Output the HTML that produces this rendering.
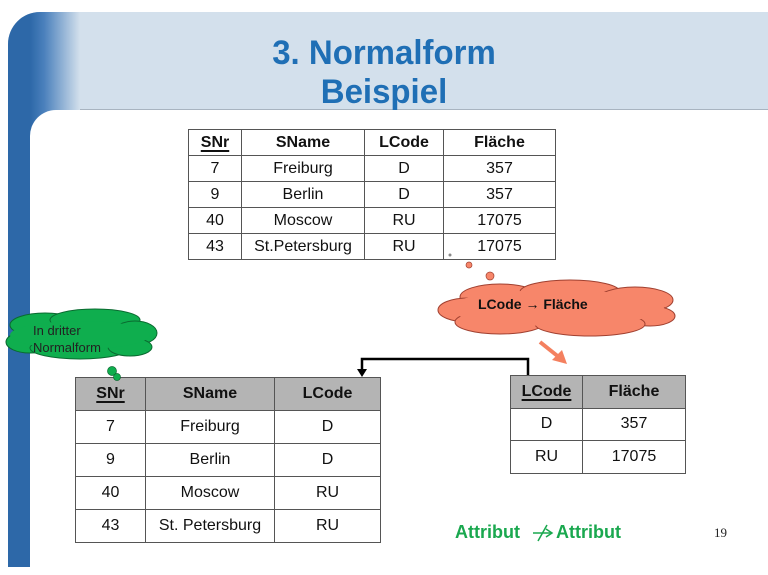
<!DOCTYPE html>
<html><head><meta charset="utf-8"><style>
body{margin:0;width:768px;height:575px;position:relative;background:#fff;font-family:"Liberation Sans",Arial,sans-serif;overflow:hidden}
.a{position:absolute}
table{position:absolute;border-collapse:collapse;font-size:16px;color:#111}
td{border:1px solid #555;text-align:center;padding:0}
.h td{font-weight:bold}
.g td{background:#b4b4b4}
u{text-decoration-thickness:2px;text-underline-offset:3px}
</style></head><body>
<div class="a" style="left:8px;top:12px;width:760px;height:97px;background:#d3e0ec;border-top-left-radius:32px;border-bottom:2px solid #a8b4c0"></div>
<div class="a" style="left:8px;top:12px;width:72px;height:555px;background:linear-gradient(90deg,#2d68a8 0,#2d68a8 22px,#4a80bc 36px,#d3e0ec 72px);border-top-left-radius:32px"></div>
<div class="a" style="left:30px;top:110px;width:738px;height:460px;background:#fff;border-top-left-radius:26px"></div>
<div class="a" style="left:0;top:34px;width:768px;text-align:center;color:#1f6fb5;font-weight:bold;font-size:34px;line-height:39px;transform:scaleX(0.97);transform-origin:384px 0">3. Normalform<br>Beispiel</div>

<table style="left:188px;top:129px;width:368px;height:131px">
<tr class="h" style="height:26px"><td style="width:52px"><u>SNr </u></td><td style="width:122px">SName</td><td style="width:78px">LCode</td><td>Fläche</td></tr>
<tr><td>7</td><td>Freiburg</td><td>D</td><td>357</td></tr>
<tr><td>9</td><td>Berlin</td><td>D</td><td>357</td></tr>
<tr><td>40</td><td>Moscow</td><td>RU</td><td>17075</td></tr>
<tr><td>43</td><td>St.Petersburg</td><td>RU</td><td>17075</td></tr>
</table>

<table style="left:75px;top:377px;width:306px;height:166px">
<tr class="h g"><td style="width:69px"><u>SNr </u></td><td style="width:128px">SName</td><td>LCode</td></tr>
<tr><td>7</td><td>Freiburg</td><td>D</td></tr>
<tr><td>9</td><td>Berlin</td><td>D</td></tr>
<tr><td>40</td><td>Moscow</td><td>RU</td></tr>
<tr><td>43</td><td>St. Petersburg</td><td>RU</td></tr>
</table>

<table style="left:510px;top:375px;width:176px;height:99px">
<tr class="h g"><td style="width:71px"><u>LCode</u></td><td>Fläche</td></tr>
<tr><td>D</td><td>357</td></tr>
<tr><td>RU</td><td>17075</td></tr>
</table>

<svg class="a" style="left:0;top:0" width="768" height="575">
<polyline points="528,375 528,359 362,359 362,372" fill="none" stroke="#000" stroke-width="2.5"/>
<polygon points="357,369 367,369 362,377" fill="#000"/>
<line x1="540" y1="342" x2="560" y2="358" stroke="#f4805f" stroke-width="4"/>
<polygon points="552,360 567,364 562,350" fill="#f4805f"/>
<g fill="#f7866a" stroke="#a04030" stroke-width="1">
<ellipse cx="500" cy="297" rx="40" ry="13"/><ellipse cx="570" cy="292" rx="50" ry="12"/><ellipse cx="635" cy="300" rx="38" ry="13"/>
<ellipse cx="468" cy="310" rx="30" ry="12"/><ellipse cx="650" cy="316" rx="25" ry="10"/>
<ellipse cx="500" cy="322" rx="45" ry="12"/><ellipse cx="590" cy="324" rx="55" ry="12"/>
</g>
<g fill="#f7866a">
<ellipse cx="556" cy="308" rx="108" ry="18"/>
</g>
<circle cx="490" cy="276" r="4" fill="#f7866a" stroke="#a04030" stroke-width=".7"/>
<circle cx="469" cy="265" r="3" fill="#f7866a" stroke="#a04030" stroke-width=".7"/>
<circle cx="450" cy="255" r="1.5" fill="#888"/>
<text x="478" y="309" font-family="Liberation Sans" font-weight="bold" font-size="14" fill="#111">LCode → Fläche</text>
<g fill="#0fae4e" stroke="#0a6a30" stroke-width="1">
<ellipse cx="45" cy="325" rx="35" ry="12"/><ellipse cx="95" cy="320" rx="45" ry="11"/><ellipse cx="135" cy="333" rx="22" ry="12"/>
<ellipse cx="30" cy="342" rx="24" ry="11"/><ellipse cx="80" cy="348" rx="50" ry="11"/><ellipse cx="130" cy="347" rx="22" ry="9"/>
</g>
<ellipse cx="80" cy="335" rx="70" ry="14" fill="#0fae4e"/>
<circle cx="112" cy="371" r="4.5" fill="#0fae4e" stroke="#0a6a30" stroke-width=".7"/>
<circle cx="117" cy="377" r="3.5" fill="#0fae4e" stroke="#0a6a30" stroke-width=".7"/>
<text x="33" y="335" font-family="Liberation Sans" font-size="13" fill="#222">In dritter</text>
<text x="33" y="352" font-family="Liberation Sans" font-size="13" fill="#222">Normalform</text>
<text x="455" y="538" font-family="Liberation Sans" font-weight="bold" font-size="18" fill="#1aa84f">Attribut</text>
<text x="556" y="538" font-family="Liberation Sans" font-weight="bold" font-size="18" fill="#1aa84f">Attribut</text>
<line x1="533" y1="533" x2="552" y2="533" stroke="#1aa84f" stroke-width="1.5"/>
<polyline points="546,529 552,533 546,537" fill="none" stroke="#1aa84f" stroke-width="1.5"/>
<line x1="538" y1="541" x2="547" y2="525" stroke="#1aa84f" stroke-width="1.5"/>
<text x="714" y="537" font-family="Liberation Serif" font-size="13" fill="#222">19</text>
</svg>
</body></html>
